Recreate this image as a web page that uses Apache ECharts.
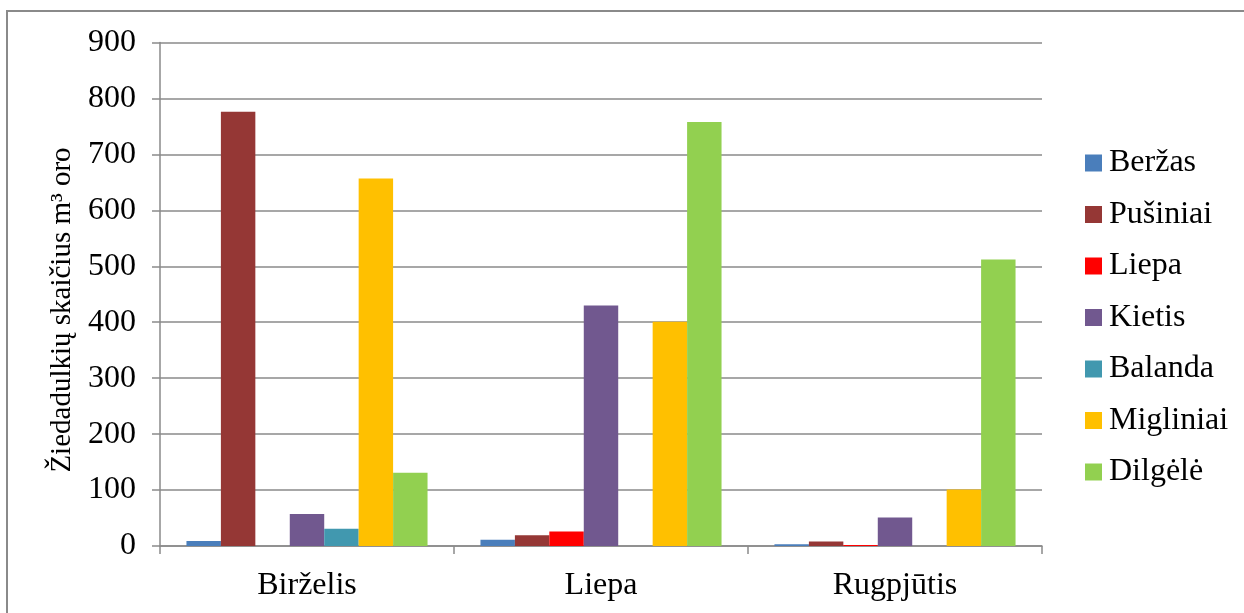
<!DOCTYPE html>
<html>
<head>
<meta charset="utf-8">
<script src="https://cdn.jsdelivr.net/npm/echarts@6/dist/echarts.min.js"></script>
<style>
  html, body { margin: 0; padding: 0; background: #ffffff; }
  #chart { width: 1244px; height: 613px; }
</style>
</head>
<body>
<div id="chart"></div>
<script>
// Months (categories)
const months = ['Birželis', 'Liepa', 'Rugpjūtis'];

// Pollen counts per m³ of air, one array per plant
const berzas    = [9, 11, 3];
const pusiniai  = [776, 19, 8];
const liepa     = [0, 26, 2];
const kietis    = [57, 430, 51];
const balanda   = [31, 0, 0];
const migliniai = [657, 401, 101];
const dilgele   = [131, 758, 512];

const seriesNames = ['Beržas', 'Pušiniai', 'Liepa', 'Kietis', 'Balanda', 'Migliniai', 'Dilgėlė'];
const seriesData  = [berzas, pusiniai, liepa, kietis, balanda, migliniai, dilgele];
const seriesColors = ['#4A7EBB', '#953735', '#FF0000', '#71588F', '#4198AF', '#FFC000', '#92D050'];

const yTicks = { min: 0, max: 900, interval: 100 };
const axisTitle = 'Žiedadulkių skaičius m³ oro';

const FONT = '"Liberation Serif", "Times New Roman", serif';
const GRAY = '#8a8a8a';
const FS = 32;

const chart = echarts.init(document.getElementById('chart'), null, { renderer: 'canvas' });

chart.setOption({
  animation: false,
  backgroundColor: '#ffffff',
  textStyle: { fontFamily: FONT, color: '#000' },
  grid: { left: 160, right: 202, top: 42.5, bottom: 67, containLabel: false },
  legend: {
    orient: 'vertical',
    left: 1085,
    top: 145,
    padding: 0,
    itemWidth: 17,
    itemHeight: 17,
    itemGap: 15.5,
    icon: 'rect',
    textStyle: { fontFamily: FONT, fontSize: FS, color: '#000', lineHeight: 36, padding: [0, 0, 0, 2] },
    data: seriesNames
  },
  xAxis: {
    type: 'category',
    data: months,
    axisLine: { lineStyle: { color: GRAY, width: 1.5 } },
    axisTick: { show: true, length: 8, lineStyle: { color: GRAY, width: 1.5 } },
    axisLabel: { fontFamily: FONT, fontSize: FS, color: '#000', margin: 24 },
    splitLine: { show: false }
  },
  yAxis: {
    type: 'value',
    min: yTicks.min,
    max: yTicks.max,
    interval: yTicks.interval,
    axisLine: { show: true, lineStyle: { color: GRAY, width: 1.5 } },
    axisTick: { show: true, length: 8, lineStyle: { color: GRAY, width: 1.5 } },
    axisLabel: { fontFamily: FONT, fontSize: FS, color: '#000', margin: 24 },
    splitLine: { show: true, lineStyle: { color: GRAY, width: 1.5 } }
  },
  graphic: [
    {
      type: 'rect',
      silent: true,
      shape: { x: 7, y: 11, width: 1260, height: 640 },
      style: { fill: 'none', stroke: GRAY, lineWidth: 2 }
    },
    {
      type: 'text',
      silent: true,
      x: 62,
      y: 310,
      rotation: Math.PI / 2,
      style: {
        text: axisTitle,
        fontFamily: FONT,
        fontSize: 29,
        fill: '#000',
        align: 'center',
        verticalAlign: 'middle'
      }
    }
  ],
  series: seriesNames.map((name, i) => ({
    name: name,
    type: 'bar',
    data: seriesData[i],
    barGap: '0%',
    barCategoryGap: '18%',
    itemStyle: { color: seriesColors[i] }
  }))
});
</script>
</body>
</html>
